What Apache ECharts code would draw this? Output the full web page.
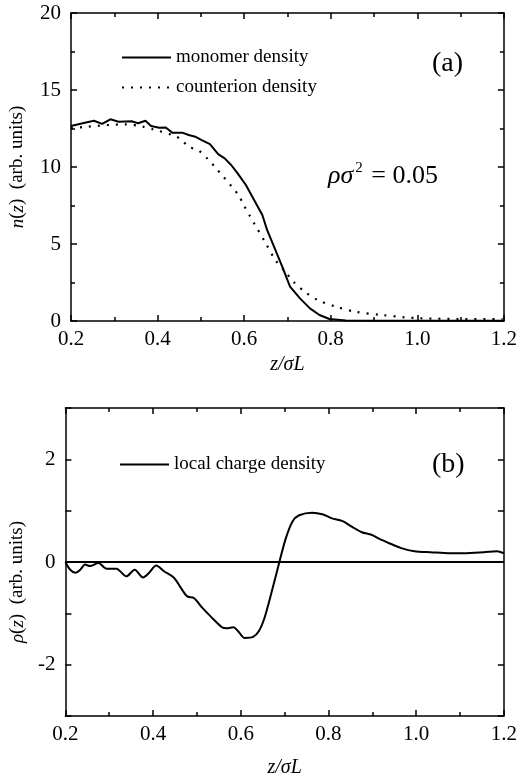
<!DOCTYPE html>
<html>
<head>
<meta charset="utf-8">
<script src="https://cdn.jsdelivr.net/npm/echarts@6/dist/echarts.min.js"></script>
<style>
  html, body { margin: 0; padding: 0; background: #fff; }
  #chart { width: 520px; height: 779px; }
</style>
</head>
<body>
<div id="chart"></div>
<script>
// panel (a): monomer / counterion density
var monomerZ = [0.200, 0.227, 0.253, 0.272, 0.291, 0.310, 0.340, 0.355, 0.372, 0.385, 0.404, 0.419, 0.434, 0.457, 0.472, 0.487, 0.502, 0.521, 0.540, 0.555, 0.570, 0.585, 0.604, 0.623, 0.642, 0.653, 0.669, 0.688, 0.706, 0.729, 0.752, 0.774, 0.797, 0.835, 0.900, 1.000, 1.100, 1.200];
var monomerN = [12.66, 12.84, 13.00, 12.80, 13.10, 12.94, 12.97, 12.84, 13.00, 12.66, 12.55, 12.57, 12.23, 12.23, 12.08, 11.97, 11.75, 11.49, 10.84, 10.56, 10.13, 9.59, 8.83, 7.86, 6.88, 5.91, 4.83, 3.53, 2.23, 1.47, 0.82, 0.39, 0.13, 0.03, 0.01, 0.01, 0.01, 0.01];

var counterZ = [0.200, 0.238, 0.325, 0.366, 0.389, 0.434, 0.453, 0.472, 0.495, 0.516, 0.533, 0.552, 0.570, 0.588, 0.599, 0.612, 0.623, 0.650, 0.672, 0.695, 0.714, 0.740, 0.770, 0.812, 0.857, 0.918, 0.971, 1.008, 1.098, 1.197];
var counterN = [12.51, 12.62, 12.77, 12.62, 12.45, 12.08, 11.82, 11.32, 11.06, 10.52, 9.98, 9.37, 8.77, 8.12, 7.53, 6.88, 6.34, 5.04, 3.96, 3.20, 2.55, 1.90, 1.36, 0.93, 0.60, 0.39, 0.24, 0.18, 0.13, 0.13];

// panel (b): local charge density
var chargeZ = [0.200, 0.211, 0.223, 0.234, 0.245, 0.256, 0.275, 0.294, 0.316, 0.339, 0.358, 0.377, 0.391, 0.407, 0.425, 0.448, 0.463, 0.478, 0.493, 0.512, 0.530, 0.557, 0.568, 0.583, 0.594, 0.609, 0.628, 0.641, 0.654, 0.669, 0.688, 0.703, 0.718, 0.733, 0.763, 0.786, 0.808, 0.831, 0.853, 0.876, 0.898, 0.921, 0.943, 0.966, 0.996, 1.033, 1.078, 1.109, 1.154, 1.184, 1.200];
var chargeRho = [0.00, -0.15, -0.21, -0.15, -0.05, -0.08, -0.02, -0.13, -0.13, -0.28, -0.15, -0.30, -0.21, -0.07, -0.18, -0.31, -0.50, -0.67, -0.70, -0.89, -1.05, -1.27, -1.29, -1.27, -1.35, -1.48, -1.46, -1.35, -1.09, -0.63, 0.00, 0.47, 0.79, 0.91, 0.96, 0.93, 0.85, 0.80, 0.69, 0.58, 0.53, 0.43, 0.35, 0.27, 0.21, 0.19, 0.17, 0.17, 0.19, 0.21, 0.17];

var xTicks = [0.2, 1.2, 0.2];   // min, max, interval
var yTicksA = [0, 20, 5];
var yTicksB = [-3, 3, 1];

function pairs(xs, ys) {
    return xs.map(function (x, i) { return [x, ys[i]]; });
}

var serif = '"Liberation Serif", "Times New Roman", serif';
var black = '#000';

function xAxisFor(grid, pos, labels, name, gap) {
    return {
        type: 'value',
        gridIndex: grid,
        position: pos,
        min: xTicks[0], max: xTicks[1], interval: xTicks[2],
        name: labels ? name : '',
        nameLocation: 'middle',
        nameGap: gap,
        nameTextStyle: { fontFamily: serif, fontSize: 20, fontStyle: 'italic', color: black },
        axisLine: { show: true, onZero: false, lineStyle: { color: black, width: 1.5 } },
        axisTick: { show: true, inside: true, length: 6, lineStyle: { color: black, width: 1.5 } },
        minorTick: { show: true, splitNumber: 2, length: 4, lineStyle: { color: black, width: 1.5 } },
        axisLabel: {
            show: labels, margin: 8, fontFamily: serif, fontSize: 21, color: black,
            formatter: function (v) { return v.toFixed(1); }
        },
        splitLine: { show: false }
    };
}

function yAxisFor(grid, pos, labels, t, name, gap, fmt, pad) {
    return {
        type: 'value',
        gridIndex: grid,
        position: pos,
        min: t[0], max: t[1], interval: t[2],
        name: labels ? name : '',
        nameLocation: 'middle',
        nameGap: gap,
        nameTextStyle: {
            fontFamily: serif, fontSize: 19, color: black, padding: pad,
            rich: { i: { fontFamily: serif, fontSize: 19, fontStyle: 'italic', color: black } }
        },
        axisLine: { show: true, onZero: false, lineStyle: { color: black, width: 1.5 } },
        axisTick: { show: true, inside: true, length: 6, lineStyle: { color: black, width: 1.5 } },
        minorTick: { show: grid === 0, splitNumber: 2, length: 4, lineStyle: { color: black, width: 1.5 } },
        axisLabel: { show: labels, margin: 10, fontFamily: serif, fontSize: 21, color: black, formatter: fmt },
        splitLine: { show: false }
    };
}

var chart = echarts.init(document.getElementById('chart'));

var legendText = { fontFamily: serif, fontSize: 19, color: black };

var option = {
    animation: false,
    backgroundColor: '#fff',
    grid: [
        { left: 66, right: 12, top: 13, height: 308 },
        { left: 63, right: 13, top: 408, height: 310 }
    ],
    xAxis: [
        xAxisFor(0, 'bottom', true, 'z/σL', 34),
        xAxisFor(0, 'top', false, '', 0),
        xAxisFor(1, 'bottom', true, 'z/σL', 42),
        xAxisFor(1, 'top', false, '', 0)
    ],
    yAxis: [
        yAxisFor(0, 'left', true, yTicksA, '{i|n}({i|z})  (arb. units)', 44, null, [0, 0, 0, 0]),
        yAxisFor(0, 'right', false, yTicksA, '', 0, null, 0),
        yAxisFor(1, 'left', true, yTicksB, '{i|ρ}({i|z})  (arb. units)', 38,
            function (v) { return v % 2 === 0 ? String(v) : ''; }, [0, 40, 0, 0]),
        yAxisFor(1, 'right', false, yTicksB, '', 0, null, 0)
    ],
    legend: [
        {
            data: ['monomer density', 'counterion density'],
            orient: 'vertical', left: 121, top: 48, padding: 0,
            itemWidth: 49, itemHeight: 14, itemGap: 11,
            itemStyle: { opacity: 0 },
            textStyle: legendText
        },
        {
            data: ['local charge density'],
            orient: 'vertical', left: 119, top: 455, padding: 0,
            itemWidth: 49, itemHeight: 14,
            itemStyle: { opacity: 0 },
            textStyle: legendText
        }
    ],
    graphic: [
        { type: 'text', left: 432, top: 50, style: { text: '(a)', font: '28px "Liberation Serif"', fill: black } },
        { type: 'text', left: 432, top: 451, style: { text: '(b)', font: '28px "Liberation Serif"', fill: black } },
        {
            type: 'text', left: 328, top: 161,
            style: {
                text: '{i|ρσ}{s|2}{n| = 0.05}',
                rich: {
                    i: { fontFamily: serif, fontSize: 26, fontStyle: 'italic', fill: black },
                    s: { fontFamily: serif, fontSize: 15, fill: black, padding: [0, 2, 16, 2] },
                    n: { fontFamily: serif, fontSize: 26, fill: black }
                }
            }
        }
    ],
    series: [
        {
            name: 'monomer density', type: 'line', xAxisIndex: 0, yAxisIndex: 0,
            data: pairs(monomerZ, monomerN), showSymbol: false, symbol: 'none',
            lineStyle: { color: black, width: 2 }, itemStyle: { color: black }
        },
        {
            name: 'counterion density', type: 'line', xAxisIndex: 0, yAxisIndex: 0,
            data: pairs(counterZ, counterN), showSymbol: false, symbol: 'none', smooth: 0.3,
            lineStyle: { color: black, width: 2.2, type: [2, 7] }, itemStyle: { color: black }
        },
        {
            name: 'local charge density', type: 'line', xAxisIndex: 2, yAxisIndex: 2,
            data: pairs(chargeZ, chargeRho), showSymbol: false, symbol: 'none', smooth: 0.3,
            lineStyle: { color: black, width: 2 }, itemStyle: { color: black },
            markLine: {
                silent: true, symbol: 'none', label: { show: false },
                lineStyle: { color: black, width: 2, type: 'solid' },
                data: [{ yAxis: 0 }]
            }
        }
    ]
};

chart.setOption(option);
</script>
</body>
</html>
